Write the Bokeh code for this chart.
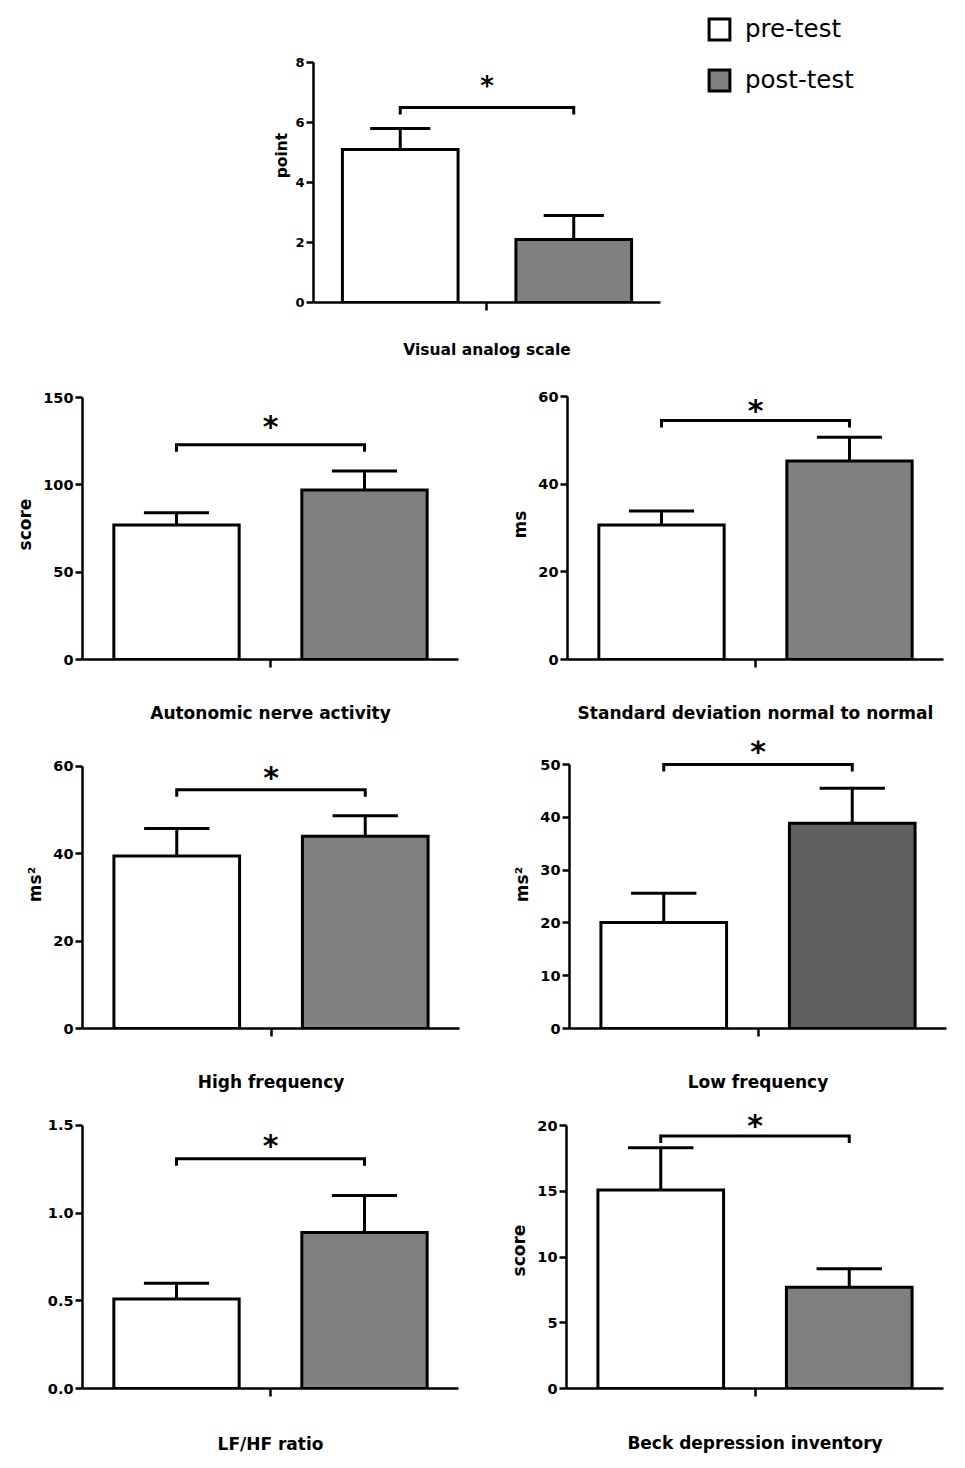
from bokeh.plotting import figure
from bokeh.layouts import column, row
from bokeh.models import FixedTicker, PrintfTickFormatter, Legend, LegendItem, ColumnDataSource
from bokeh.core.properties import value
from bokeh.embed import file_html
from bokeh.resources import INLINE

# ---------------- data ----------------
groups = ["pre-test", "post-test"]
titles = ["Visual analog scale", "Autonomic nerve activity",
          "Standard deviation normal to normal", "High frequency",
          "Low frequency", "LF/HF ratio", "Beck depression inventory"]
ylabels = ["point", "score", "ms", "ms\u00b2", "ms\u00b2", "", "score"]

vas_mean = [5.1, 2.1]
vas_sem = [0.7, 0.8]
ana_mean = [77, 97]
ana_sem = [7, 11]
sdnn_mean = [30.7, 45.3]
sdnn_sem = [3.2, 5.4]
hf_mean = [39.5, 44.0]
hf_sem = [6.3, 4.7]
lf_mean = [20.1, 38.9]
lf_sem = [5.5, 6.6]
ratio_mean = [0.51, 0.89]
ratio_sem = [0.09, 0.21]
bdi_mean = [15.1, 7.7]
bdi_sem = [3.2, 1.4]

bracket_y = [6.5, 123, 54.5, 54.7, 50, 1.31, 19.2]   # significance bracket level
y_ticks = [[0, 2, 4, 6, 8], [0, 50, 100, 150], [0, 20, 40, 60], [0, 20, 40, 60],
           [0, 10, 20, 30, 40, 50], [0, 0.5, 1.0, 1.5], [0, 5, 10, 15, 20]]

FONT = "DejaVu Sans"
PRE_C = "#ffffff"
POST_C = "#808080"
POST_C_DARK = "#606060"


def panel(W, H, bl, br, bt, bb, ytop, ticks, mean, sem, bracket, title, ylabel,
          colors, fs_tick, fs_lab, fs_star, star_gap, lab_standoff, ylab_standoff,
          fmt=None, xend=3.0):
    p = figure(width=W, height=H, x_range=(0, xend), y_range=(0, ytop),
               output_backend="svg", toolbar_location=None,
               min_border_left=bl, min_border_right=br,
               min_border_top=bt, min_border_bottom=bb)
    p.outline_line_color = None
    p.xgrid.visible = False
    p.ygrid.visible = False
    fh = H - bt - bb
    upp = ytop / fh
    xs = [0.75, 2.25]
    tops = [m + s for m, s in zip(mean, sem)]
    src = ColumnDataSource(dict(x=xs, mean=mean, top=tops, color=colors,
                                cl=[x - 0.26 for x in xs], cr=[x + 0.26 for x in xs]))
    p.segment(x0="x", y0="mean", x1="x", y1="top", source=src,
              line_color="black", line_width=3)
    p.segment(x0="cl", y0="top", x1="cr", y1="top", source=src,
              line_color="black", line_width=3)
    bars = p.vbar(x="x", top="mean", bottom=0, width=1.0, source=src,
                  fill_color="color", line_color="black", line_width=3, line_join="miter")
    d = 7 * upp
    p.line(x=[xs[0], xs[0], xs[1], xs[1]], y=[bracket - d, bracket, bracket, bracket - d],
           line_color="black", line_width=3, line_join="miter")
    p.text(x=[1.5], y=[bracket + (star_gap - 0.58 * float(fs_star[:-2])) * upp], text=["*"],
           text_align="center", text_baseline="alphabetic",
           text_font=value(FONT), text_font_style="bold", text_font_size=fs_star,
           text_color="black")

    xa = p.xaxis[0]
    xa.ticker = FixedTicker(ticks=[1.5])
    xa.bounds = (0, 3)
    xa.major_label_overrides = {1.5: title}
    xa.major_tick_in = 0
    xa.major_tick_out = 8
    xa.minor_tick_in = 0
    xa.minor_tick_out = 0
    xa.major_label_standoff = lab_standoff
    xa.major_label_text_font = FONT
    xa.major_label_text_font_style = "bold"
    xa.major_label_text_font_size = fs_lab
    xa.major_label_text_color = "black"

    ya = p.yaxis[0]
    ya.ticker = FixedTicker(ticks=ticks)
    ya.bounds = (0, ticks[-1])
    if fmt:
        ya.formatter = PrintfTickFormatter(format=fmt)
    ya.major_tick_in = 0
    ya.major_tick_out = 7
    ya.minor_tick_in = 0
    ya.minor_tick_out = 0
    ya.major_label_standoff = 2
    ya.major_label_text_font = FONT
    ya.major_label_text_font_style = "bold"
    ya.major_label_text_font_size = fs_tick
    ya.major_label_text_color = "black"
    if ylabel:
        ya.axis_label = ylabel
        ya.axis_label_text_font = FONT
        ya.axis_label_text_font_style = "bold"
        ya.axis_label_text_font_size = fs_lab
        ya.axis_label_text_color = "black"
        ya.axis_label_standoff = ylab_standoff
    for ax in (xa, ya):
        ax.axis_line_width = 2.5
        ax.axis_line_color = "black"
        ax.major_tick_line_width = 2.5
        ax.major_tick_line_color = "black"
    return p, bars


std = [PRE_C, POST_C]
# top panel (frame extended to the right/top so the legend can sit inside it)
p1, vas_bars = panel(957, 375, 313, 0, 8, 73, 9.8, y_ticks[0], vas_mean, vas_sem, bracket_y[0],
                     titles[0], ylabels[0], std, "13px", "15.5px", "26px", 37, 30, 1,
                     xend=5.568)
leg = Legend(items=[LegendItem(label=g, renderers=[vas_bars], index=i)
                    for i, g in enumerate(groups)],
             location=(393, 208), orientation="vertical",
             glyph_width=26, glyph_height=26, label_height=26, spacing=22,
             label_standoff=13, padding=0, margin=0,
             border_line_color=None, background_fill_alpha=0,
             label_text_font=FONT, label_text_font_size="24.5px", label_text_color="black")
p1.add_layout(leg)

p2, _ = panel(490, 360, 82, 32, 14, 76, 154.6, y_ticks[1], ana_mean, ana_sem, bracket_y[1],
              titles[1], ylabels[1], std, "14.5px", "17px", "30px", 36, 35, 5)
p3, _ = panel(467, 360, 77, 14, 14, 76, 61.6, y_ticks[2], sdnn_mean, sdnn_sem, bracket_y[2],
              titles[2], ylabels[2], std, "14.5px", "17px", "30px", 28, 35, 5)
p4, _ = panel(490, 365, 82, 31, 5, 72, 65.95, y_ticks[3], hf_mean, hf_sem, bracket_y[3],
              titles[3], ylabels[3], std, "14.5px", "17px", "30px", 30, 35, 5)
p5, _ = panel(467, 365, 79, 11, 5, 72, 54.55, y_ticks[4], lf_mean, lf_sem, bracket_y[4],
              titles[4], ylabels[4], [PRE_C, POST_C_DARK], "14.5px", "17px", "30px", 30, 35, 5)
p6, _ = panel(490, 360, 82, 32, 12, 72, 1.574, y_ticks[5], ratio_mean, ratio_sem, bracket_y[5],
              titles[5], ylabels[5], std, "14.5px", "17px", "30px", 31, 37, 5, fmt="%.1f")
p7, _ = panel(467, 360, 76, 14, 12, 72, 20.99, y_ticks[6], bdi_mean, bdi_sem, bracket_y[6],
              titles[6], ylabels[6], std, "14.5px", "17px", "30px", 28, 36, 5)

layout = column(p1, row(p2, p3), row(p4, p5), row(p6, p7))
open("out.html", "w").write(file_html(layout, INLINE))
